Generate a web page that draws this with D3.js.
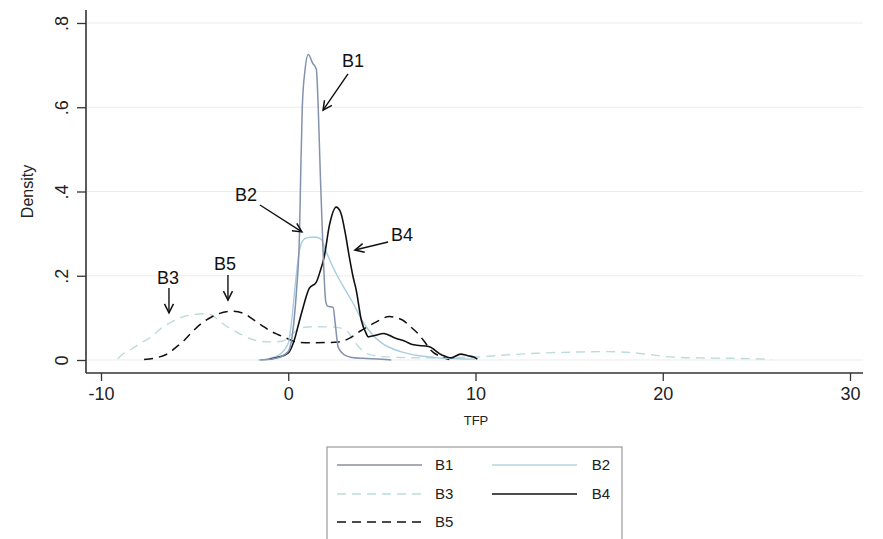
<!DOCTYPE html>
<html>
<head>
<meta charset="utf-8">
<script src="https://cdn.jsdelivr.net/npm/d3@7"></script>
<style>
  body { margin: 0; background: #fff; }
  svg { font-family: "Liberation Sans", Arial, sans-serif; }
</style>
</head>
<body>
<div id="chart"></div>
<script>
// kernel density estimates (TFP, density)
var b1 = [[-1.5,0],[-1,0.002],[-0.5,0.006],[0,0.02],[0.3,0.09],[0.45,0.17],[0.6,0.3],[0.66,0.43],[0.75,0.6],
  [0.9,0.69],[1.07,0.725],[1.3,0.705],[1.5,0.69],[1.6,0.6],[1.72,0.43],[1.85,0.27],[2.0,0.14],[2.1,0.128],
  [2.4,0.125],[2.5,0.09],[2.67,0.03],[3.0,0.012],[3.4,0.006],[4,0.004],[5,0.002],[5.5,0]];
var b2 = [[-1.6,0],[-1,0.004],[-0.5,0.012],[0,0.04],[0.2,0.1],[0.4,0.19],[0.6,0.26],[0.8,0.285],[1.0,0.29],
  [1.4,0.292],[1.75,0.287],[2.0,0.26],[2.5,0.21],[3,0.17],[3.4,0.14],[4,0.09],[4.5,0.06],[5,0.04],[6,0.02],
  [7,0.01],[8,0.005],[9,0.003],[10,0.002]];
var b3 = [[-9.1,0.003],[-8.9,0.012],[-8.4,0.025],[-7.9,0.04],[-7.3,0.055],[-6.8,0.075],[-6.25,0.09],[-5.6,0.103],
  [-5,0.108],[-4.3,0.11],[-3.8,0.098],[-3.4,0.083],[-2.9,0.07],[-2.5,0.06],[-2,0.05],[-1.4,0.044],[-0.8,0.043],
  [-0.3,0.045],[0.3,0.065],[0.8,0.077],[1.5,0.079],[2.5,0.078],[3.1,0.07],[3.6,0.04],[4.2,0.015],[5,0.008],
  [6,0.006],[7,0.005],[8,0.005],[9,0.006],[10,0.007],[11,0.01],[12,0.013],[13.3,0.016],[14.5,0.018],[15.6,0.019],
  [17,0.02],[17.8,0.019],[18.5,0.017],[19.3,0.013],[20.2,0.008],[21,0.006],[22,0.005],[23.5,0.004],[25,0.003],[25.8,0.001]];
var b4 = [[-1,0.002],[-0.5,0.007],[0,0.017],[0.32,0.047],[0.55,0.085],[0.8,0.126],[1.12,0.17],[1.5,0.185],
  [1.7,0.21],[1.92,0.245],[2.2,0.32],[2.56,0.363],[2.8,0.35],[3.05,0.3],[3.26,0.245],[3.45,0.2],[3.63,0.166],
  [3.9,0.095],[4.16,0.063],[4.27,0.055],[4.6,0.058],[5.1,0.063],[5.7,0.052],[6.2,0.045],[6.7,0.036],[7.5,0.032],
  [8.2,0.012],[8.7,0.005],[9.2,0.014],[9.6,0.01],[9.9,0.007],[10.1,0.002]];
var b5 = [[-7.7,0.001],[-7.2,0.004],[-6.4,0.016],[-6,0.03],[-5.55,0.047],[-5.1,0.068],[-4.6,0.088],[-4.1,0.102],
  [-3.7,0.11],[-3,0.116],[-2.35,0.11],[-1.9,0.097],[-1.44,0.083],[-1,0.07],[-0.53,0.06],[0,0.05],[0.5,0.042],
  [1.5,0.041],[2.7,0.043],[3.2,0.05],[3.9,0.07],[4.6,0.088],[5.4,0.103],[6.1,0.095],[6.5,0.08],[6.9,0.064],
  [7.3,0.042],[7.6,0.024],[8.2,0.007],[8.6,0.001]];

var seriesNames = ["B1", "B2", "B3", "B4", "B5"];
var seriesData = [b1, b2, b3, b4, b5];
var xTicks = [-10, 0, 10, 20, 30];
var yTicks = [0, 0.2, 0.4, 0.6, 0.8];

// label text, label pos, arrow start, arrow end (data units)
var notes = [
  ["B1", [3.46, 0.712], [3.19, 0.679], [1.86, 0.593]],
  ["B2", [-2.26, 0.392], [-1.51, 0.368], [0.73, 0.304]],
  ["B3", [-6.42, 0.195], [-6.37, 0.171], [-6.37, 0.112]],
  ["B4", [6.07, 0.297], [5.33, 0.28], [3.56, 0.261]],
  ["B5", [-3.38, 0.228], [-3.22, 0.202], [-3.22, 0.142]]
];

var styles = {
  B1: { color: "#8592ad", width: 1.5, dash: null },
  B2: { color: "#a9cde0", width: 1.4, dash: null },
  B3: { color: "#bcdcdc", width: 1.4, dash: "9,6" },
  B4: { color: "#111", width: 1.6, dash: null },
  B5: { color: "#111", width: 1.5, dash: "9,6" }
};

var width = 883, height = 539;
var svg = d3.select("#chart").append("svg")
  .attr("width", width).attr("height", height);

var x = d3.scaleLinear().domain([-10, 30]).range([101, 850]);
var y = d3.scaleLinear().domain([0, 0.8]).range([360, 23]);

var axisLeftX = 86, axisBottomY = 373;

// gridlines
svg.selectAll("line.grid").data(yTicks).enter().append("line")
  .attr("x1", axisLeftX + 1).attr("x2", 863)
  .attr("y1", function(d){ return y(d); }).attr("y2", function(d){ return y(d); })
  .attr("stroke", "#ececec").attr("stroke-width", 1.2);

// axes
var gx = svg.append("g").attr("transform", "translate(0," + axisBottomY + ")")
  .call(d3.axisBottom(x).tickValues(xTicks).tickSize(8).tickPadding(6)
    .tickFormat(function(d){ return String(d); }));
gx.select(".domain").remove();
gx.selectAll("line").attr("stroke", "#333").attr("stroke-width", 1.3);
gx.selectAll("text").attr("font-size", 18).attr("fill", "#222")
  .attr("font-family", "Liberation Sans, Arial, sans-serif");

var gy = svg.append("g").attr("transform", "translate(" + axisLeftX + ",0)")
  .call(d3.axisLeft(y).tickValues(yTicks).tickSize(9)
    .tickFormat(function(d){ return d === 0 ? "0" : d3.format(".1f")(d).replace("0.", "."); }));
gy.select(".domain").remove();
gy.selectAll("line").attr("stroke", "#333").attr("stroke-width", 1.3);
gy.selectAll("text").attr("font-size", 18).attr("fill", "#222")
  .attr("font-family", "Liberation Sans, Arial, sans-serif")
  .attr("x", -18).attr("dy", 0)
  .attr("text-anchor", "middle")
  .attr("transform", function(){ return "rotate(-90," + (-18) + ",0)"; });

svg.append("line").attr("x1", axisLeftX).attr("x2", axisLeftX).attr("y1", 10).attr("y2", axisBottomY)
  .attr("stroke", "#333").attr("stroke-width", 1.6);
svg.append("line").attr("x1", axisLeftX).attr("x2", 863).attr("y1", axisBottomY).attr("y2", axisBottomY)
  .attr("stroke", "#333").attr("stroke-width", 1.6);

svg.append("text").text("TFP").attr("x", 476).attr("y", 425)
  .attr("text-anchor", "middle").attr("font-size", 13).attr("fill", "#222");
svg.append("text").text("Density")
  .attr("transform", "translate(33," + ((y(0) + y(0.8)) / 2) + ") rotate(-90)")
  .attr("text-anchor", "middle").attr("font-size", 16).attr("fill", "#222");

// density curves
var line = d3.line()
  .x(function(d){ return x(d[0]); })
  .y(function(d){ return y(d[1]); })
  .curve(d3.curveMonotoneX);

var drawOrder = [2, 4, 1, 3, 0];
drawOrder.forEach(function(i){
  var s = styles[seriesNames[i]];
  svg.append("path").datum(seriesData[i])
    .attr("d", line)
    .attr("fill", "none")
    .attr("stroke", s.color)
    .attr("stroke-width", s.width)
    .attr("stroke-dasharray", s.dash);
});

// annotations
svg.append("defs").append("marker")
  .attr("id", "arr").attr("viewBox", "-10 -6 12 12")
  .attr("refX", 0).attr("refY", 0)
  .attr("markerWidth", 12).attr("markerHeight", 12)
  .attr("markerUnits", "userSpaceOnUse")
  .attr("orient", "auto")
  .append("path").attr("d", "M-9,-4.5 L0,0 L-9,4.5")
  .attr("fill", "none").attr("stroke", "#111").attr("stroke-width", 1.5);

notes.forEach(function(n){
  svg.append("text").text(n[0])
    .attr("x", x(n[1][0])).attr("y", y(n[1][1])).attr("dy", "0.36em")
    .attr("text-anchor", "middle").attr("font-size", 18).attr("fill", "#111");
  svg.append("line")
    .attr("x1", x(n[2][0])).attr("y1", y(n[2][1]))
    .attr("x2", x(n[3][0])).attr("y2", y(n[3][1]))
    .attr("stroke", "#111").attr("stroke-width", 1.4)
    .attr("marker-end", "url(#arr)");
});

// legend
var legend = svg.append("g");
legend.append("rect").attr("x", 327).attr("y", 447).attr("width", 295).attr("height", 120)
  .attr("fill", "#fff").attr("stroke", "#999").attr("stroke-width", 1.2);

var legendCols = [337, 492], rowY = [465, 494, 522];
seriesNames.forEach(function(name, i){
  var cx = legendCols[i % 2], cy = rowY[Math.floor(i / 2)];
  var s = styles[name];
  var lineColor = name === "B1" ? "#8a8f9c" : (name === "B2" ? "#b9d6df" : s.color);
  legend.append("line").attr("x1", cx).attr("x2", cx + 85).attr("y1", cy).attr("y2", cy)
    .attr("stroke", lineColor).attr("stroke-width", s.width).attr("stroke-dasharray", s.dash);
  legend.append("text").text(name)
    .attr("x", i % 2 === 0 ? cx + 98 : cx + 118).attr("y", cy).attr("dy", "0.36em")
    .attr("text-anchor", i % 2 === 0 ? "start" : "end")
    .attr("font-size", 15).attr("fill", "#222");
});
</script>
</body>
</html>
